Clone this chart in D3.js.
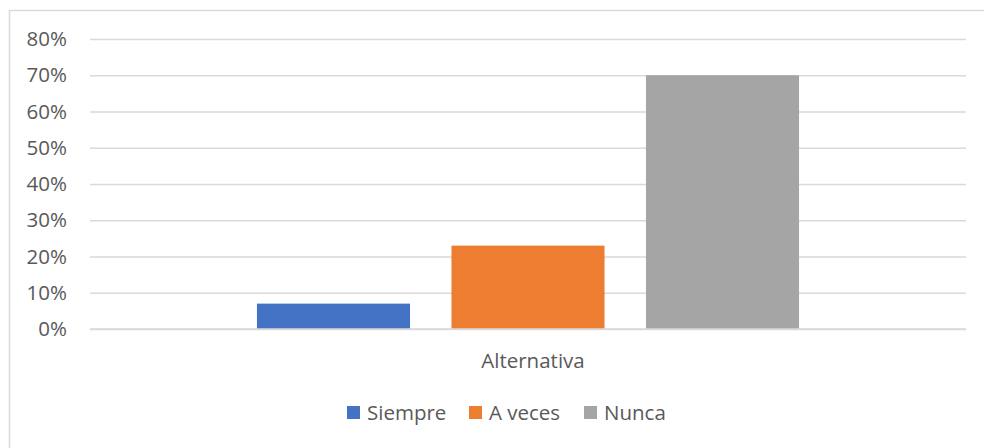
<!DOCTYPE html>
<html><head><meta charset="utf-8">
<script src="https://cdn.jsdelivr.net/npm/d3@7"></script>
<style>body{margin:0;background:#fff}svg{display:block}text{font-family:"Open Sans",sans-serif;fill:#595959}</style>
</head><body><svg id="c" width="984" height="448"></svg>
<script>
const categories = ["Alternativa"];
const seriesNames = ["Siempre", "A veces", "Nunca"];
const seriesValues = [0.07, 0.23, 0.70];
const seriesColors = ["#4472C4", "#ED7D31", "#A5A5A5"];
const yTicks = [0, 0.1, 0.2, 0.3, 0.4, 0.5, 0.6, 0.7, 0.8];

const svg = d3.select("#c");
const W = 984, H = 448;
const m = {left: 90, right: 18, top: 39, bottom: 119};
const FS = "20.5px";

svg.append("rect").attr("x", 9.5).attr("y", 10.5).attr("width", W).attr("height", H)
  .attr("fill", "#fff").attr("stroke", "#d9d9d9").attr("stroke-width", 1.5);

const y = d3.scaleLinear().domain([0, 0.8]).range([H - m.bottom, m.top]);
const x0 = d3.scaleBand().domain(categories).range([m.left, W - m.right]).paddingInner(0).paddingOuter(0.308);
const x1 = d3.scaleBand().domain(seriesNames).range([0, x0.bandwidth()]).paddingInner(0.213).paddingOuter(0);

const yAxis = d3.axisLeft(y).tickValues(yTicks).tickFormat(d3.format(".0%"))
  .tickSize(-(W - m.right - m.left)).tickPadding(23);
const ga = svg.append("g").attr("transform", `translate(${m.left},0)`).call(yAxis);
ga.select(".domain").remove();
ga.selectAll(".tick line").attr("stroke", "#d9d9d9").attr("stroke-width", 1.3);
ga.selectAll(".tick text").style("font-size", FS).attr("fill", "#595959").style("font-family", '"Open Sans",sans-serif');

const g = svg.append("g");
categories.forEach(c => {
  g.selectAll("rect.bar").data(seriesNames).enter().append("rect")
    .attr("x", s => x0(c) + x1(s))
    .attr("width", x1.bandwidth())
    .attr("y", (s, i) => y(seriesValues[i]))
    .attr("height", (s, i) => y(0) - y(seriesValues[i]))
    .attr("fill", (s, i) => seriesColors[i]);
  svg.append("text").attr("x", x0(c) + x0.bandwidth() / 2 + 5).attr("y", 368)
    .attr("text-anchor", "middle").style("font-size", FS).text(c);
});
// baseline
svg.append("line").attr("x1", m.left).attr("x2", W - m.right).attr("y1", y(0)).attr("y2", y(0))
  .attr("stroke", "#d9d9d9").attr("stroke-width", 1.5);

// legend
const legendX = [347, 469, 584];
const lg = svg.append("g");
seriesNames.forEach((s, i) => {
  lg.append("rect").attr("x", legendX[i]).attr("y", 406).attr("width", 13).attr("height", 13).attr("fill", seriesColors[i]);
  lg.append("text").attr("x", legendX[i] + 20).attr("y", 420).style("font-size", FS).text(s);
});
</script></body></html>
